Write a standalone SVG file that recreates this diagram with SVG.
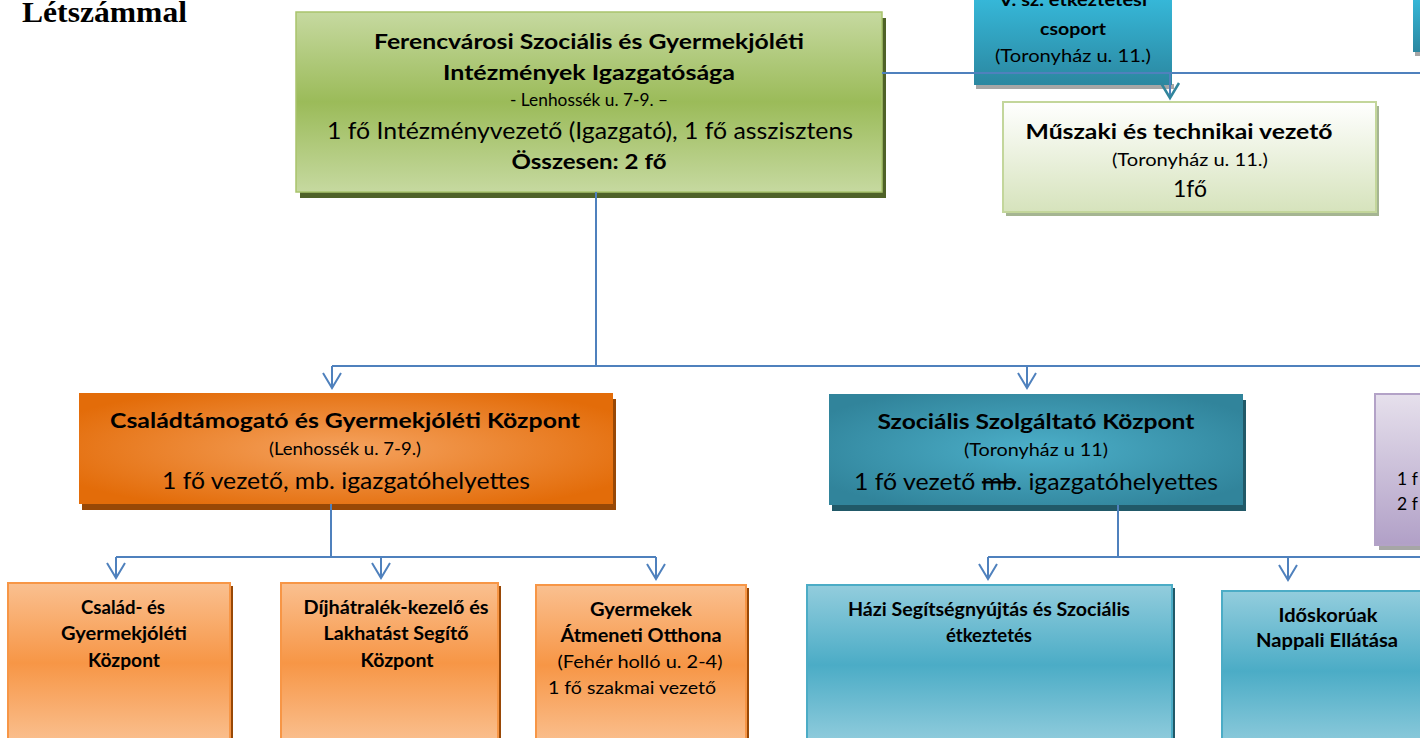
<svg xmlns="http://www.w3.org/2000/svg" width="1420" height="738" viewBox="0 0 1420 738">
<style>
text{font-family:Lato,"Open Sans","Liberation Sans",sans-serif;fill:#000;text-anchor:middle}
.b{font-weight:bold}
.conn{fill:none;stroke:#4f81bd;stroke-width:2}
.arr{marker-end:url(#chev)}
</style>
<defs>
<marker id="chev" markerUnits="userSpaceOnUse" viewBox="-16 -12 18 24" refX="0" refY="0" markerWidth="18" markerHeight="24" orient="auto" overflow="visible">
<path d="M-15,-9 L0,0 L-15,9" fill="none" stroke="#4f81bd" stroke-width="2"/>
</marker>
<marker id="chevT" markerUnits="userSpaceOnUse" viewBox="-16 -12 18 24" refX="0" refY="0" markerWidth="18" markerHeight="24" orient="auto" overflow="visible">
<path d="M-15,-9 L0,0 L-15,9" fill="none" stroke="#31859c" stroke-width="2.5"/>
</marker>
<linearGradient id="gGreen" x1="0" y1="0" x2="0" y2="1">
<stop offset="0" stop-color="#c6d9a0"/><stop offset="0.5" stop-color="#9bbb59"/><stop offset="1" stop-color="#c6d9a0"/>
</linearGradient>
<linearGradient id="gMusz" x1="0" y1="0" x2="0" y2="1">
<stop offset="0" stop-color="#ffffff"/><stop offset="1" stop-color="#d6e3bc"/>
</linearGradient>
<linearGradient id="gTopBlue" x1="0" y1="0" x2="0" y2="1">
<stop offset="0" stop-color="#36b8d9"/><stop offset="1" stop-color="#2b87a0"/>
</linearGradient>
<radialGradient id="gOrange" cx="0.5" cy="0.5" r="0.6">
<stop offset="0" stop-color="#f5a25e"/><stop offset="1" stop-color="#e36c09"/>
</radialGradient>
<radialGradient id="gTeal" cx="0.5" cy="0.5" r="0.6">
<stop offset="0" stop-color="#4cafc9"/><stop offset="1" stop-color="#31849b"/>
</radialGradient>
<linearGradient id="gLOrange" x1="0" y1="0" x2="0" y2="1">
<stop offset="0" stop-color="#fac090"/><stop offset="0.5" stop-color="#f79646"/><stop offset="1" stop-color="#fac090"/>
</linearGradient>
<linearGradient id="gLBlue" x1="0" y1="0" x2="0" y2="1">
<stop offset="0" stop-color="#93cddd"/><stop offset="0.5" stop-color="#4bacc6"/><stop offset="1" stop-color="#93cddd"/>
</linearGradient>
<linearGradient id="gPurple" x1="0" y1="0" x2="0" y2="1">
<stop offset="0" stop-color="#e6e0ec"/><stop offset="1" stop-color="#b1a0c7"/>
</linearGradient>
</defs>

<text x="22" y="22" style="font-family:'Liberation Serif',serif;text-anchor:start;font-size:29px" class="b" textLength="165" lengthAdjust="spacingAndGlyphs">Létszámmal</text>

<g id="top-blue">
<rect x="976" y="84" width="198" height="5" fill="#a6a6a6"/>
<rect x="974" y="-2" width="198" height="87" fill="url(#gTopBlue)"/>
<text x="1073" y="6" class="b" font-size="17" textLength="148" lengthAdjust="spacingAndGlyphs">V. sz. étkeztetési</text>
<text x="1073" y="35" class="b" font-size="17" textLength="66" lengthAdjust="spacingAndGlyphs">csoport</text>
<text x="1073" y="62" font-size="17" textLength="156" lengthAdjust="spacingAndGlyphs">(Toronyház u. 11.)</text>
</g>

<g id="top-right">
<rect x="1415" y="50" width="8" height="6" fill="#a6a6a6"/>
<rect x="1413" y="-2" width="10" height="54" fill="url(#gTopBlue)"/>
</g>

<g id="igazgatosag">
<rect x="300" y="18" width="586" height="180" fill="#4f6228"/>
<rect x="296" y="12" width="586" height="180" fill="url(#gGreen)" stroke="#a9c46c" stroke-width="1.5"/>
<text x="589" y="49" class="b" font-size="21" textLength="430" lengthAdjust="spacingAndGlyphs">Ferencvárosi Szociális és Gyermekjóléti</text>
<text x="589" y="80" class="b" font-size="21" textLength="292" lengthAdjust="spacingAndGlyphs">Intézmények Igazgatósága</text>
<text x="589" y="106" font-size="16.5" textLength="158" lengthAdjust="spacingAndGlyphs">- Lenhossék u. 7-9. –</text>
<text x="590" y="139" font-size="23" textLength="526" lengthAdjust="spacingAndGlyphs">1 fő Intézményvezető (Igazgató), 1 fő asszisztens</text>
<text x="589" y="169" class="b" font-size="21" textLength="155" lengthAdjust="spacingAndGlyphs">Összesen: 2 fő</text>
</g>

<g id="muszaki">
<rect x="1006" y="106" width="373" height="110" fill="#a5b592"/>
<rect x="1003" y="102" width="373" height="110" fill="url(#gMusz)" stroke="#c3d69b" stroke-width="2"/>
<text x="1179" y="139" class="b" font-size="21" textLength="307" lengthAdjust="spacingAndGlyphs">Műszaki és technikai vezető</text>
<text x="1190" y="166" font-size="16.5" textLength="156" lengthAdjust="spacingAndGlyphs">(Toronyház u. 11.)</text>
<text x="1190" y="197" font-size="23" textLength="34" lengthAdjust="spacingAndGlyphs">1fő</text>
</g>

<g id="purple">
<rect x="1379" y="399" width="45" height="151" fill="#a6a6a6"/>
<rect x="1375" y="394" width="50" height="151" fill="url(#gPurple)" stroke="#b3a2c7" stroke-width="2"/>
<text x="1397" y="485" font-size="17.5" style="text-anchor:start">1 f</text>
<text x="1397" y="510" font-size="17.5" style="text-anchor:start">2 f</text>
</g>

<g id="csaladtamogato">
<rect x="82" y="399" width="534" height="111" fill="#984806"/>
<rect x="79" y="393" width="534" height="111" fill="url(#gOrange)"/>
<text x="345" y="428" class="b" font-size="21" textLength="470" lengthAdjust="spacingAndGlyphs">Családtámogató és Gyermekjóléti Központ</text>
<text x="345" y="455" font-size="16.5" textLength="152" lengthAdjust="spacingAndGlyphs">(Lenhossék u. 7-9.)</text>
<text x="346" y="489" font-size="23" textLength="368" lengthAdjust="spacingAndGlyphs">1 fő vezető, mb. igazgatóhelyettes</text>
</g>

<g id="szocialis">
<rect x="832" y="400" width="414" height="111" fill="#215968"/>
<rect x="829" y="394" width="414" height="111" fill="url(#gTeal)"/>
<text x="1036" y="429" class="b" font-size="21" textLength="317" lengthAdjust="spacingAndGlyphs">Szociális Szolgáltató Központ</text>
<text x="1036" y="456" font-size="16.5" textLength="144" lengthAdjust="spacingAndGlyphs">(Toronyház u 11)</text>
<text x="1036" y="490" font-size="23" textLength="364" lengthAdjust="spacingAndGlyphs">1 fő vezető <tspan text-decoration="line-through">mb</tspan>. igazgatóhelyettes</text>
</g>

<g id="csalad-gyermekjoleti">
<rect x="11" y="586" width="222" height="160" fill="#984806"/>
<rect x="8" y="583" width="222" height="160" fill="url(#gLOrange)" stroke="#f79646" stroke-width="2"/>
<text x="123" y="614" class="b" font-size="18" textLength="84" lengthAdjust="spacingAndGlyphs">Család- és</text>
<text x="124" y="640" class="b" font-size="18" textLength="126" lengthAdjust="spacingAndGlyphs">Gyermekjóléti</text>
<text x="124" y="667" class="b" font-size="18" textLength="72" lengthAdjust="spacingAndGlyphs">Központ</text>
</g>

<g id="dijhatralek">
<rect x="284" y="586" width="217" height="160" fill="#984806"/>
<rect x="281" y="583" width="217" height="160" fill="url(#gLOrange)" stroke="#f79646" stroke-width="2"/>
<text x="396" y="614" class="b" font-size="18" textLength="185" lengthAdjust="spacingAndGlyphs">Díjhátralék-kezelő és</text>
<text x="396" y="640" class="b" font-size="18" textLength="145" lengthAdjust="spacingAndGlyphs">Lakhatást Segítő</text>
<text x="397" y="667" class="b" font-size="18" textLength="73" lengthAdjust="spacingAndGlyphs">Központ</text>
</g>

<g id="atmeneti-otthon">
<rect x="539" y="588" width="210" height="160" fill="#984806"/>
<rect x="536" y="585" width="210" height="160" fill="url(#gLOrange)" stroke="#f79646" stroke-width="2"/>
<text x="641" y="616" class="b" font-size="18" textLength="102" lengthAdjust="spacingAndGlyphs">Gyermekek</text>
<text x="641" y="642" class="b" font-size="18" textLength="161" lengthAdjust="spacingAndGlyphs">Átmeneti Otthona</text>
<text x="640" y="668" font-size="17" textLength="165" lengthAdjust="spacingAndGlyphs">(Fehér holló u. 2-4)</text>
<text x="632" y="694" font-size="17" textLength="168" lengthAdjust="spacingAndGlyphs">1 fő szakmai vezető</text>
</g>

<g id="hazi-segitseg">
<rect x="810" y="588" width="365" height="160" fill="#215968"/>
<rect x="807" y="585" width="365" height="160" fill="url(#gLBlue)" stroke="#4bacc6" stroke-width="2"/>
<text x="989" y="616" class="b" font-size="18" textLength="282" lengthAdjust="spacingAndGlyphs">Házi Segítségnyújtás és Szociális</text>
<text x="989" y="642" class="b" font-size="18" textLength="86" lengthAdjust="spacingAndGlyphs">étkeztetés</text>
</g>

<g id="idoskoruak">
<rect x="1222" y="591" width="205" height="160" fill="url(#gLBlue)" stroke="#4bacc6" stroke-width="2"/>
<text x="1328" y="622" class="b" font-size="18" textLength="99" lengthAdjust="spacingAndGlyphs">Időskorúak</text>
<text x="1327" y="647" class="b" font-size="18" textLength="142" lengthAdjust="spacingAndGlyphs">Nappali Ellátása</text>
</g>

<g id="connectors">
<path class="conn" d="M882 73 H1420"/>
<path class="conn" d="M1170 73 V98" style="marker-end:url(#chevT)"/>
<path class="conn" d="M596 192 V366"/>
<path class="conn" d="M332 366 H1420"/>
<path class="conn arr" d="M332 366 V388"/>
<path class="conn arr" d="M1027 366 V388"/>
<path class="conn" d="M331 504 V557"/>
<path class="conn" d="M116 557 H656"/>
<path class="conn arr" d="M116 557 V578"/>
<path class="conn arr" d="M381 557 V578"/>
<path class="conn arr" d="M656 557 V579"/>
<path class="conn" d="M1118 505 V557"/>
<path class="conn" d="M988 557 H1420"/>
<path class="conn arr" d="M988 557 V579"/>
<path class="conn arr" d="M1288 557 V580"/>
</g>
</svg>
